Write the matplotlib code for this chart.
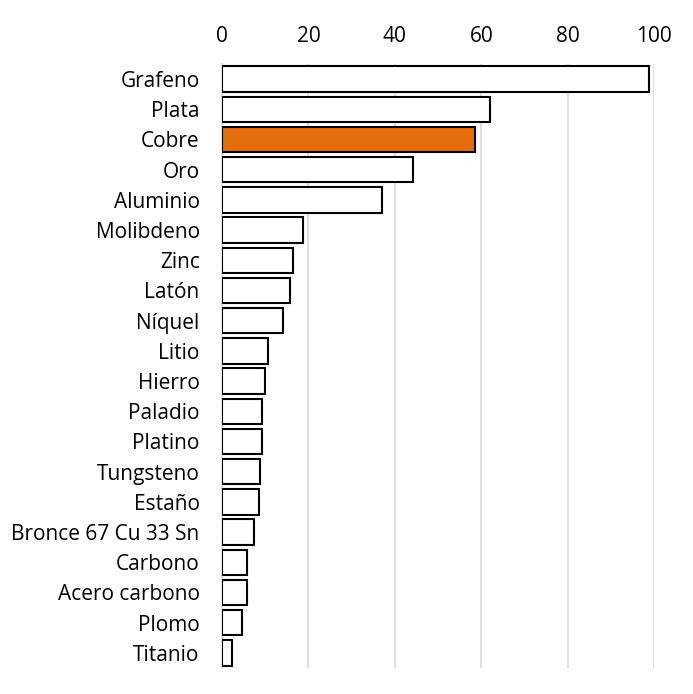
import matplotlib

matplotlib.use("Agg")
import matplotlib.pyplot as plt  # noqa: E402

materials = [
    "Grafeno", "Plata", "Cobre", "Oro", "Aluminio", "Molibdeno", "Zinc",
    "Latón", "Níquel", "Litio", "Hierro", "Paladio", "Platino", "Tungsteno",
    "Estaño", "Bronce 67 Cu 33 Sn", "Carbono", "Acero carbono", "Plomo", "Titanio",
]
values = [
    98.8, 62.1, 58.6, 44.2, 36.9, 18.7, 16.5,
    15.8, 14.2, 10.7, 10.0, 9.35, 9.3, 8.8,
    8.65, 7.3, 5.8, 5.8, 4.6, 2.3,
]
highlight = "Cobre"
x_ticks = [0, 20, 40, 60, 80, 100]

_ORANGE = "#E46C0A"
_GRID = "#D9D9D9"
FONT_SIZE = 15

plt.rcParams["font.family"] = ["Open Sans", "DejaVu Sans"]

fig = plt.figure(figsize=(6.93, 6.94), dpi=100)
ax = fig.add_axes([0.3203, 0.0375, 0.9442 - 0.3203, 0.9078 - 0.0375])

colors = [_ORANGE if m == highlight else "white" for m in materials]
ypos = list(range(len(materials)))
ax.barh(ypos, values, height=0.84, color=colors, edgecolor="black", linewidth=1.5, zorder=3)

ax.set_ylim(len(materials) - 0.5, -0.5)
ax.set_xlim(0, 100)
ax.set_yticks(ypos)
ax.set_yticklabels(materials, fontsize=FONT_SIZE)
ax.set_xticks(x_ticks)
ax.set_xticklabels([str(t) for t in x_ticks], fontsize=FONT_SIZE)

ax.xaxis.tick_top()
ax.tick_params(axis="x", length=0, pad=12)
ax.tick_params(axis="y", length=0, pad=16)
ax.grid(axis="x", color=_GRID, linewidth=1.2, zorder=0)
for side in ("top", "right", "bottom"):
    ax.spines[side].set_visible(False)
ax.spines["left"].set_color(_GRID)
ax.spines["left"].set_linewidth(1.2)

fig.savefig("out.png", dpi=100)
